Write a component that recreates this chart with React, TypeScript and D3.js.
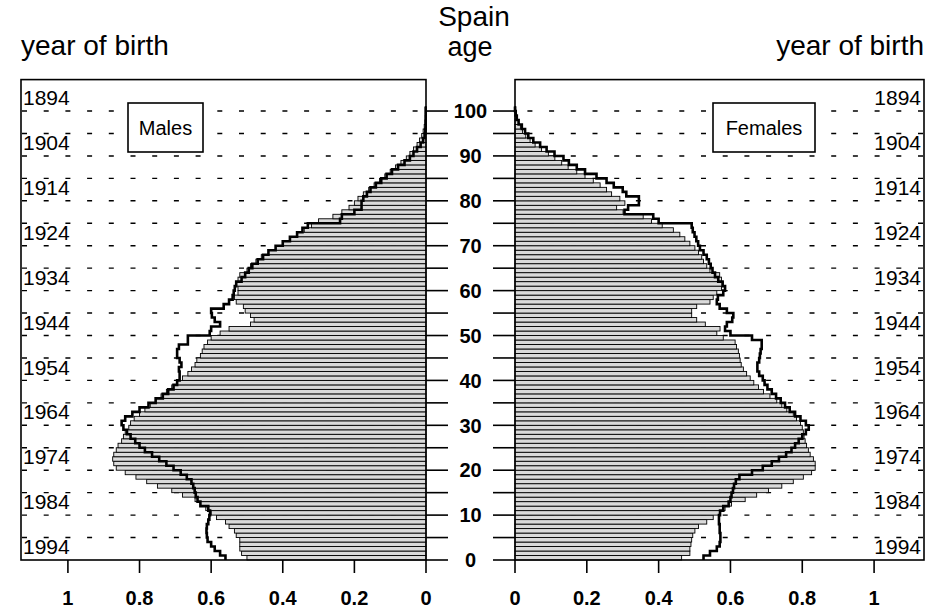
import React from 'react';
import * as d3 from 'd3';

// single years of age, 0..100
const ages = d3.range(0, 101);

const maleBars = [
  0.5, 0.515, 0.52, 0.52, 0.52, 0.53, 0.535, 0.55, 0.56, 0.585,
  0.6, 0.615, 0.63, 0.645, 0.68, 0.71, 0.75, 0.78, 0.81, 0.84,
  0.865, 0.872, 0.875, 0.872, 0.865, 0.86, 0.85, 0.845, 0.84, 0.83,
  0.825, 0.815, 0.8, 0.785, 0.77, 0.755, 0.74, 0.725, 0.71, 0.695,
  0.68, 0.665, 0.655, 0.645, 0.64, 0.63, 0.625, 0.62, 0.61, 0.6,
  0.575, 0.55, 0.49, 0.48, 0.49, 0.505, 0.51, 0.53, 0.535, 0.525,
  0.525, 0.53, 0.525, 0.52, 0.5, 0.49, 0.475, 0.46, 0.44, 0.42,
  0.4, 0.38, 0.36, 0.34, 0.32, 0.3, 0.26, 0.235, 0.215, 0.2,
  0.19, 0.175, 0.16, 0.145, 0.13, 0.115, 0.1, 0.085, 0.07, 0.055,
  0.045, 0.035, 0.025, 0.018, 0.012, 0.008, 0.005, 0.003, 0.002, 0.001,
  0.001,
];

const maleLine = [
  0.56, 0.575, 0.59, 0.6, 0.61, 0.612, 0.613, 0.612, 0.608, 0.605,
  0.603, 0.608, 0.63, 0.638, 0.643, 0.646, 0.65, 0.655, 0.668, 0.685,
  0.705, 0.725, 0.745, 0.765, 0.785, 0.8, 0.812, 0.825, 0.835, 0.845,
  0.85, 0.84, 0.82, 0.8, 0.775, 0.755, 0.735, 0.72, 0.705, 0.695,
  0.688, 0.688, 0.69, 0.683, 0.688, 0.695, 0.695, 0.69, 0.665, 0.665,
  0.604, 0.6, 0.575, 0.59, 0.598, 0.6, 0.565, 0.55, 0.54, 0.537,
  0.534, 0.53, 0.515, 0.505, 0.495, 0.485, 0.47, 0.455, 0.44, 0.42,
  0.4, 0.38, 0.36, 0.345, 0.33, 0.24, 0.235, 0.2, 0.18, 0.18,
  0.175, 0.165, 0.155, 0.14, 0.125, 0.11, 0.095, 0.078, 0.06, 0.045,
  0.035, 0.025, 0.015, 0.008, 0.004, 0.002, 0.001, 0.001, 0.001, 0.001,
  0.001,
];

const femaleBars = [
  0.464, 0.487, 0.487, 0.49, 0.492, 0.495, 0.501, 0.511, 0.534, 0.552,
  0.571, 0.585, 0.603, 0.641, 0.673, 0.706, 0.743, 0.775, 0.803, 0.826,
  0.836, 0.836, 0.831, 0.822, 0.817, 0.812, 0.808, 0.805, 0.803, 0.8,
  0.795, 0.784, 0.775, 0.757, 0.743, 0.729, 0.71, 0.692, 0.678, 0.665,
  0.655, 0.645, 0.636, 0.63, 0.627, 0.625, 0.622, 0.617, 0.613, 0.58,
  0.562, 0.571, 0.53, 0.506, 0.492, 0.492, 0.506, 0.543, 0.552, 0.562,
  0.575, 0.58, 0.575, 0.57, 0.543, 0.534, 0.525, 0.52, 0.511, 0.501,
  0.487, 0.473, 0.459, 0.441, 0.41, 0.38, 0.357, 0.301, 0.283, 0.306,
  0.292, 0.269, 0.255, 0.237, 0.218, 0.195, 0.172, 0.148, 0.13, 0.111,
  0.093, 0.074, 0.056, 0.042, 0.03, 0.021, 0.015, 0.01, 0.006, 0.003,
  0.002,
];

const femaleLine = [
  0.525, 0.543, 0.562, 0.57, 0.572, 0.572, 0.57, 0.57, 0.568, 0.568,
  0.571, 0.58, 0.595, 0.6, 0.603, 0.607, 0.61, 0.615, 0.625, 0.66,
  0.69, 0.715, 0.735, 0.755, 0.77, 0.78, 0.79, 0.8, 0.81, 0.818,
  0.81, 0.795, 0.78, 0.765, 0.752, 0.74, 0.727, 0.715, 0.703, 0.695,
  0.69, 0.68, 0.675, 0.675, 0.68, 0.682, 0.684, 0.687, 0.687, 0.66,
  0.6, 0.585, 0.59, 0.605, 0.608, 0.59, 0.57, 0.562, 0.565, 0.58,
  0.585, 0.578, 0.566, 0.557, 0.55, 0.545, 0.54, 0.534, 0.525, 0.515,
  0.51, 0.505, 0.5, 0.495, 0.492, 0.4, 0.385, 0.305, 0.315, 0.345,
  0.345, 0.31, 0.3, 0.275, 0.255, 0.227, 0.195, 0.172, 0.15, 0.135,
  0.11, 0.088, 0.07, 0.051, 0.037, 0.028, 0.019, 0.01, 0.005, 0.002,
  0,
];

const yearLabels = [1894, 1904, 1914, 1924, 1934, 1944, 1954, 1964, 1974, 1984, 1994];
const censusYear = 1997;
const ageTicks = d3.range(0, 101, 5);
const ageLabels = d3.range(0, 101, 10);
const gridAges = d3.range(5, 101, 5);
const shareTicks = [0, 0.2, 0.4, 0.6, 0.8, 1];

const W = 948;
const H = 613;
const font = "'Liberation Sans', Arial, Helvetica, sans-serif";

const yScale = d3.scaleLinear().domain([0, 107]).range([560, 79.6]);
const xLeft = d3.scaleLinear().domain([0, 1.131]).range([426, 21]);
const xRight = d3.scaleLinear().domain([0, 1.139]).range([515, 924]);

function stepPath(values: number[], x: d3.ScaleLinear<number, number>) {
  const pts: [number, number][] = [];
  values.forEach((v, i) => {
    pts.push([v, ages[i]]);
    pts.push([v, ages[i] + 1]);
  });
  return d3
    .line<[number, number]>()
    .x((d) => x(d[0]))
    .y((d) => yScale(d[1]))(pts) as string;
}

function Panel({
  x,
  bars,
  line,
  side,
  legend,
}: {
  x: d3.ScaleLinear<number, number>;
  bars: number[];
  line: number[];
  side: 'left' | 'right';
  legend: { x0: number; x1: number; label: string };
}) {
  const [r0, r1] = x.range();
  const xmin = Math.min(r0, r1);
  const xmax = Math.max(r0, r1);
  const top = yScale(107);
  const bottom = yScale(0);
  return (
    <g>
      {/* dashed age grid */}
      {gridAges.map((a) => (
        <line
          key={'g' + a}
          x1={side === 'left' ? xmin + 1 : xmax - 1}
          x2={side === 'left' ? xmax : xmin}
          y1={yScale(a)}
          y2={yScale(a)}
          stroke="#000"
          strokeWidth={1.4}
          strokeDasharray="5 16.7"
        />
      ))}
      {/* year of birth labels */}
      {yearLabels.map((yr) => (
        <text
          key={'y' + yr}
          x={side === 'left' ? xmin + 2 : xmax - 3}
          y={yScale(censusYear - yr)}
          dy="0.36em"
          textAnchor={side === 'left' ? 'start' : 'end'}
          fontSize={21}
          fontFamily={font}
          fill="#000"
        >
          {yr}
        </text>
      ))}
      {/* bars */}
      {bars.map((v, i) => {
        const xa = x(0);
        const xb = x(v);
        return (
          <rect
            key={'b' + i}
            x={Math.min(xa, xb)}
            y={yScale(ages[i] + 1)}
            width={Math.abs(xb - xa)}
            height={yScale(ages[i]) - yScale(ages[i] + 1)}
            fill="#dadada"
            stroke="#000"
            strokeWidth={0.9}
          />
        );
      })}
      {/* comparison outline */}
      <path d={stepPath(line, x)} fill="none" stroke="#000" strokeWidth={2.6} strokeLinejoin="miter" />
      {/* legend */}
      <rect
        x={legend.x0}
        y={103}
        width={legend.x1 - legend.x0}
        height={49}
        fill="#fff"
        stroke="#000"
        strokeWidth={1.6}
      />
      <text
        x={(legend.x0 + legend.x1) / 2}
        y={127.5}
        dy="0.36em"
        textAnchor="middle"
        fontSize={20}
        fontFamily={font}
      >
        {legend.label}
      </text>
      {/* frame */}
      <rect x={xmin} y={top} width={xmax - xmin} height={bottom - top} fill="none" stroke="#000" strokeWidth={1.6} />
      {/* share axis */}
      {shareTicks.map((t) => (
        <g key={'t' + t}>
          <line x1={x(t)} x2={x(t)} y1={bottom} y2={bottom + 13} stroke="#000" strokeWidth={1.6} />
          <text
            x={x(t)}
            y={605}
            textAnchor="middle"
            fontSize={20}
            fontWeight="bold"
            fontFamily={font}
          >
            {t.toString()}
          </text>
        </g>
      ))}
    </g>
  );
}

export default function App() {
  return (
    <div style={{ position: 'absolute', left: 0, top: 0 }}>
      <svg width={W} height={H} style={{ display: 'block', background: '#fff' }}>
        <text x={474} y={26} textAnchor="middle" fontSize={28} fontFamily={font}>
          Spain
        </text>
        <text x={21} y={55} textAnchor="start" fontSize={28} fontFamily={font}>
          year of birth
        </text>
        <text x={470} y={56} textAnchor="middle" fontSize={27} fontFamily={font}>
          age
        </text>
        <text x={924} y={55} textAnchor="end" fontSize={28} fontFamily={font}>
          year of birth
        </text>

        <Panel x={xLeft} bars={maleBars} line={maleLine} side="left" legend={{ x0: 128, x1: 203, label: 'Males' }} />
        <Panel x={xRight} bars={femaleBars} line={femaleLine} side="right" legend={{ x0: 713, x1: 815, label: 'Females' }} />

        {/* central age axis */}
        {ageTicks.map((a) => (
          <g key={'a' + a}>
            <line x1={426} x2={448} y1={yScale(a)} y2={yScale(a)} stroke="#000" strokeWidth={1.6} />
            <line x1={493} x2={515} y1={yScale(a)} y2={yScale(a)} stroke="#000" strokeWidth={1.6} />
          </g>
        ))}
        {ageLabels.map((a) => (
          <text
            key={'l' + a}
            x={470.5}
            y={yScale(a)}
            dy="0.36em"
            textAnchor="middle"
            fontSize={20}
            fontWeight="bold"
            fontFamily={font}
          >
            {a}
          </text>
        ))}
      </svg>
    </div>
  );
}
